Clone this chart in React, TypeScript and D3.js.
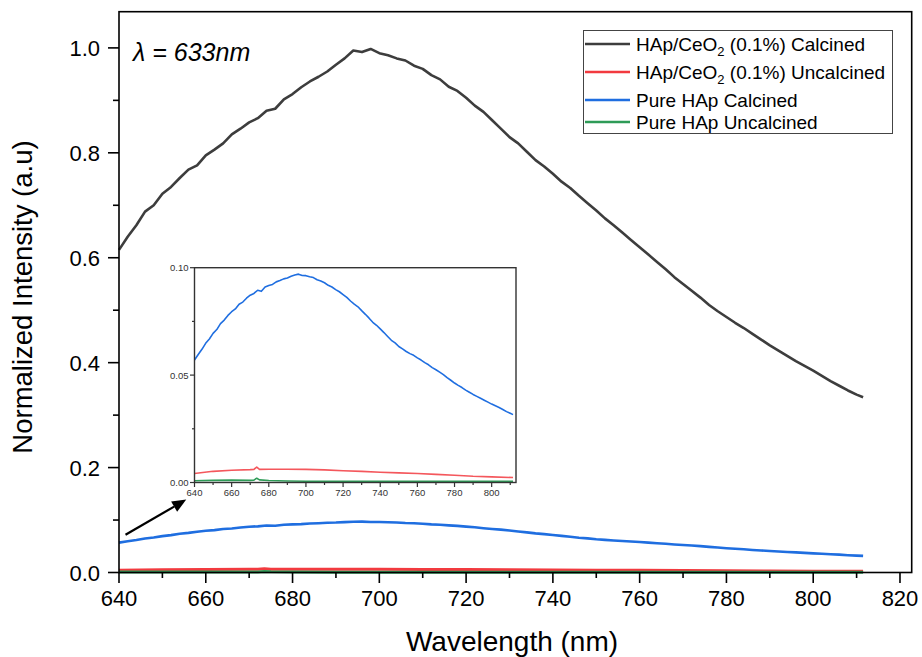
import React from "react";
import * as d3 from "d3";

const wavelengths = [640,642,644,646,648,650,652,654,656,658,660,662,664,666,668,670,672,674,676,678,680,682,684,686,688,690,692,694,696,698,700,702,704,706,708,710,712,714,716,718,720,722,724,726,728,730,732,734,736,738,740,742,744,746,748,750,752,754,756,758,760,762,764,766,768,770,772,774,776,778,780,782,784,786,788,790,792,794,796,798,800,802,804,806,808,810,811.5];

const ceo2Calcined = [0.615,0.640,0.662,0.688,0.700,0.722,0.735,0.752,0.768,0.776,0.795,0.806,0.818,0.835,0.846,0.858,0.866,0.880,0.884,0.902,0.912,0.925,0.936,0.945,0.955,0.968,0.980,0.995,0.992,0.998,0.990,0.986,0.980,0.976,0.966,0.960,0.948,0.940,0.926,0.918,0.905,0.890,0.878,0.862,0.846,0.830,0.818,0.802,0.786,0.774,0.760,0.745,0.733,0.718,0.704,0.690,0.675,0.662,0.648,0.634,0.620,0.606,0.592,0.578,0.563,0.550,0.537,0.524,0.510,0.498,0.487,0.476,0.466,0.455,0.444,0.433,0.423,0.413,0.403,0.394,0.385,0.375,0.365,0.356,0.347,0.339,0.334];

const pureCalcined = [0.0570,0.0596,0.0620,0.0648,0.0668,0.0694,0.0712,0.0740,0.0756,0.0778,0.0795,0.0808,0.0830,0.0840,0.0858,0.0872,0.0880,0.0895,0.0890,0.0910,0.0917,0.0922,0.0934,0.0940,0.0948,0.0952,0.0960,0.0966,0.0970,0.0964,0.0963,0.0958,0.0954,0.0944,0.0938,0.0930,0.0918,0.0910,0.0898,0.0888,0.0875,0.0862,0.0845,0.0830,0.0818,0.0800,0.0783,0.0765,0.0746,0.0732,0.0715,0.0698,0.0680,0.0662,0.0650,0.0633,0.0622,0.0610,0.0600,0.0592,0.0580,0.0570,0.0558,0.0548,0.0535,0.0525,0.0514,0.0502,0.0488,0.0476,0.0463,0.0452,0.0442,0.0430,0.0420,0.0410,0.0401,0.0392,0.0383,0.0374,0.0365,0.0357,0.0349,0.0340,0.0330,0.0322,0.0316];

const lowWavelengths = [640,650,660,670,672,673.5,675,680,690,700,710,720,730,740,750,760,770,780,790,800,811.5];
const ceo2Uncalcined = [0.0042,0.0052,0.0057,0.0060,0.0061,0.0072,0.0061,0.0062,0.0062,0.0061,0.0059,0.0055,0.0052,0.0048,0.0045,0.0042,0.0038,0.0034,0.0029,0.0026,0.0023];
const pureUncalcined = [0.0008,0.0010,0.0011,0.0010,0.0011,0.0020,0.0012,0.0009,0.0007,0.0006,0.0006,0.0006,0.0006,0.0006,0.0006,0.0006,0.0006,0.0006,0.0006,0.0006,0.0006];

const xMajorTicks = [640,660,680,700,720,740,760,780,800,820];
const xMinorTicks = [650,670,690,710,730,750,770,790,810];
const yMajorTicks = [0,0.2,0.4,0.6,0.8,1.0];
const yMinorTicks = [0.1,0.3,0.5,0.7,0.9];
const insetXMajor = [640,660,680,700,720,740,760,780,800];
const insetXMinor = [650,670,690,710,730,750,770,790,810];
const insetYMajor = [0,0.05,0.1];
const insetYMinor = [0.025,0.075];

const seriesNames = ["HAp/CeO2 (0.1%) Calcined","HAp/CeO2 (0.1%) Uncalcined","Pure HAp Calcined","Pure HAp Uncalcined"];
const colors = ["#3d3d3d","#f23a3f","#1f6ee0","#2e9b57"];

const FONT = "'Liberation Sans', Arial, Helvetica, sans-serif";

export default function App() {
  const x = d3.scaleLinear().domain([640, 822.7]).range([119, 911.7]);
  const y = d3.scaleLinear().domain([0, 1.069]).range([572.5, 11.7]);
  const ix = d3.scaleLinear().domain([640, 813.1]).range([194.5, 516]);
  const iy = d3.scaleLinear().domain([0, 0.1]).range([482.5, 267.7]);

  const mk = (xs: number[], sx: any, sy: any) =>
    d3.line<number>().x((_, i) => sx(xs[i])).y((v) => sy(v));

  const series = [
    { xs: wavelengths, ys: ceo2Calcined },
    { xs: lowWavelengths, ys: ceo2Uncalcined },
    { xs: wavelengths, ys: pureCalcined },
    { xs: lowWavelengths, ys: pureUncalcined },
  ];
  const drawOrder = [0, 2, 1, 3];

  const legendRows = [44, 72, 100, 122];

  const renderName = (name: string) => {
    if (name.includes("CeO2")) {
      const [a, b] = name.split("CeO2");
      return (
        <>
          <tspan>{a}CeO</tspan>
          <tspan dy={5} fontSize={13}>2</tspan>
          <tspan dy={-5}>{b}</tspan>
        </>
      );
    }
    return <tspan>{name}</tspan>;
  };

  // arrow annotation
  const ax1 = x(641.5), ay1 = y(0.072), ax2 = x(655.5), ay2 = y(0.139);
  const ang = Math.atan2(ay2 - ay1, ax2 - ax1);
  const hl = 14, hw = 6;
  const bx = ax2 - hl * Math.cos(ang), by = ay2 - hl * Math.sin(ang);
  const head = `M${ax2},${ay2} L${bx + hw * Math.sin(ang)},${by - hw * Math.cos(ang)} L${bx - hw * Math.sin(ang)},${by + hw * Math.cos(ang)} Z`;

  return (
    <svg width={922} height={657} style={{ position: "absolute", left: 0, top: 0, background: "#fff" }} fontFamily={FONT}>
      <rect x={0} y={0} width={922} height={657} fill="#fff" />
      {/* main lines */}
      {drawOrder.map((k) => (
        <path key={k} d={mk(series[k].xs, x, y)(series[k].ys) || ""} fill="none" stroke={colors[k]} strokeWidth={k === 1 || k === 3 ? 3 : 2.6} strokeLinejoin="round" />
      ))}
      {/* frame */}
      <rect x={119} y={11.7} width={911.7 - 119} height={572.5 - 11.7} fill="none" stroke="#000" strokeWidth={1.6} />
      {/* y ticks */}
      {yMajorTicks.map((t) => (
        <g key={"ym" + t}>
          <line x1={108} x2={119} y1={y(t)} y2={y(t)} stroke="#000" strokeWidth={1.6} />
          <text x={100} y={y(t) + 8} fontSize={22} textAnchor="end" fill="#000">{t.toFixed(1)}</text>
        </g>
      ))}
      {yMinorTicks.map((t) => (
        <line key={"yn" + t} x1={113} x2={119} y1={y(t)} y2={y(t)} stroke="#000" strokeWidth={1.6} />
      ))}
      {/* x ticks */}
      {xMajorTicks.map((t) => (
        <g key={"xm" + t}>
          <line x1={x(t)} x2={x(t)} y1={572.5} y2={583} stroke="#000" strokeWidth={1.6} />
          <text x={x(t)} y={606} fontSize={22} textAnchor="middle" fill="#000">{t}</text>
        </g>
      ))}
      {xMinorTicks.map((t) => (
        <line key={"xn" + t} x1={x(t)} x2={x(t)} y1={572.5} y2={578} stroke="#000" strokeWidth={1.6} />
      ))}
      {/* axis titles */}
      <text x={512} y={651} fontSize={28} textAnchor="middle" fill="#000">Wavelength (nm)</text>
      <text transform="translate(32,297) rotate(-90)" fontSize={27.5} textAnchor="middle" fill="#000">Normalized Intensity (a.u)</text>
      {/* lambda label */}
      <text x={133} y={61} fontSize={25} fontStyle="italic" fill="#000">λ = 633nm</text>

      {/* legend */}
      <rect x={583.5} y={30.5} width={309} height={103} fill="#fff" stroke="#444" strokeWidth={1} />
      {seriesNames.map((n, i) => (
        <g key={n}>
          <line x1={585} x2={630} y1={legendRows[i]} y2={legendRows[i]} stroke={colors[i]} strokeWidth={2.6} />
          <text x={636} y={legendRows[i] + 6.5} fontSize={19} fill="#000">{renderName(n)}</text>
        </g>
      ))}

      {/* inset */}
      <rect x={194.5} y={267.7} width={516 - 194.5} height={482.5 - 267.7} fill="#fff" />
      {[3, 1, 2].map((k) => (
        <path key={"i" + k} d={mk(series[k].xs, ix, iy)(series[k].ys) || ""} fill="none" stroke={colors[k]} strokeOpacity={k === 1 ? 0.85 : 1} strokeWidth={1.6} strokeLinejoin="round" />
      ))}
      <rect x={194.5} y={267.7} width={516 - 194.5} height={482.5 - 267.7} fill="none" stroke="#333" strokeWidth={1.4} />
      {insetYMajor.map((t) => (
        <g key={"iym" + t}>
          <line x1={190} x2={194.5} y1={iy(t)} y2={iy(t)} stroke="#333" strokeWidth={1.2} />
          <text x={188.5} y={iy(t) + 3.5} fontSize={9.5} textAnchor="end" fill="#333">{t.toFixed(2)}</text>
        </g>
      ))}
      {insetYMinor.map((t) => (
        <line key={"iyn" + t} x1={192} x2={194.5} y1={iy(t)} y2={iy(t)} stroke="#333" strokeWidth={1.2} />
      ))}
      {insetXMajor.map((t) => (
        <g key={"ixm" + t}>
          <line x1={ix(t)} x2={ix(t)} y1={482.5} y2={487} stroke="#333" strokeWidth={1.2} />
          <text x={ix(t)} y={496} fontSize={9.5} textAnchor="middle" fill="#333">{t}</text>
        </g>
      ))}
      {insetXMinor.map((t) => (
        <line key={"ixn" + t} x1={ix(t)} x2={ix(t)} y1={482.5} y2={485} stroke="#333" strokeWidth={1.2} />
      ))}

      {/* arrow */}
      <line x1={ax1} y1={ay1} x2={bx} y2={by} stroke="#000" strokeWidth={2.2} />
      <path d={head} fill="#000" />
    </svg>
  );
}
